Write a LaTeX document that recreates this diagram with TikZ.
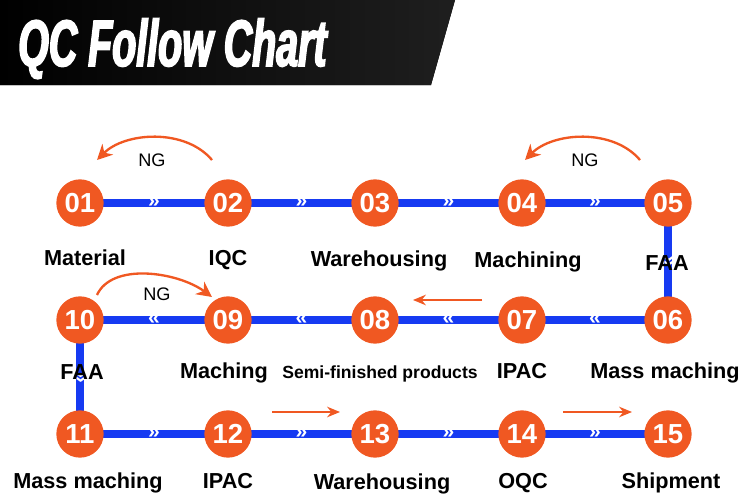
\documentclass[tikz,border=0pt]{standalone}
\usepackage{fontspec}
\setmainfont{Liberation Sans}
\newfontfamily\titlefont[FakeBold=2.5,FakeStretch=0.6]{Liberation Sans Bold Italic}
\usetikzlibrary{arrows.meta,positioning}

\definecolor{qcorange}{RGB}{240,88,34}
\definecolor{qcblue}{RGB}{22,58,242}
\pgfdeclarelayer{bg}
\pgfsetlayers{bg,main}

\begin{document}
\begin{tikzpicture}[x=0.03cm,y=-0.03cm,
  stepnum/.style={circle,fill=qcorange,minimum size=1.42cm,inner sep=0pt,text=white,font=\fontsize{23.5}{23.5}\selectfont\bfseries},
  flow/.style={qcblue,line width=7.5pt},
  chev/.style={text=white,inner sep=0pt,font=\fontsize{18}{18}\selectfont\bfseries},
  lbl/.style={anchor=base,font=\fontsize{18.5}{20}\selectfont\bfseries},
  ng/.style={qcorange,line width=2pt,-{Stealth[length=13pt,width=13pt]}},
  fwd/.style={qcorange,line width=1.6pt,-{Stealth[length=11pt,width=9pt]}},
  nglbl/.style={anchor=base,font=\fontsize{15.5}{16}\selectfont}]
\useasboundingbox (0,0) rectangle (742,501);

% header
\fill[left color=black,right color=black!88] (0,0) -- (455,0) -- (431,85) -- (0,85) -- cycle;
\node[anchor=base west,inner sep=0pt,text=white] (title) at (18,66)
  {\titlefont\fontsize{56}{56}\selectfont QC Follow Chart};

% steps
\node[stepnum] (n01) at (80,203) {01};
\node[stepnum] (n02) at (228,203) {02};
\node[stepnum] (n03) at (375,203) {03};
\node[stepnum] (n04) at (522,203) {04};
\node[stepnum] (n05) at (668,203) {05};
\node[stepnum] (n06) at (668,320) {06};
\node[stepnum] (n07) at (522,320) {07};
\node[stepnum] (n08) at (375,320) {08};
\node[stepnum] (n09) at (228,320) {09};
\node[stepnum] (n10) at (80,320) {10};
\node[stepnum] (n11) at (80,434) {11};
\node[stepnum] (n12) at (228,434) {12};
\node[stepnum] (n13) at (375,434) {13};
\node[stepnum] (n14) at (522,434) {14};
\node[stepnum] (n15) at (668,434) {15};

% flow line
\begin{pgfonlayer}{bg}
\draw[flow] (n01.center) -- node[chev]{»} (n02.center);
\draw[flow] (n02.center) -- node[chev]{»} (n03.center);
\draw[flow] (n03.center) -- node[chev]{»} (n04.center);
\draw[flow] (n04.center) -- node[chev]{»} (n05.center);
\draw[flow] (n05.center) -- node[chev,rotate=-90]{»} (n06.center);
\draw[flow] (n06.center) -- node[chev]{«} (n07.center);
\draw[flow] (n07.center) -- node[chev]{«} (n08.center);
\draw[flow] (n08.center) -- node[chev]{«} (n09.center);
\draw[flow] (n09.center) -- node[chev]{«} (n10.center);
\draw[flow] (n10.center) -- node[chev,rotate=-90]{»} (n11.center);
\draw[flow] (n11.center) -- node[chev]{»} (n12.center);
\draw[flow] (n12.center) -- node[chev]{»} (n13.center);
\draw[flow] (n13.center) -- node[chev]{»} (n14.center);
\draw[flow] (n14.center) -- node[chev]{»} (n15.center);
\end{pgfonlayer}

% labels
\node[lbl] (l01) at (85,265) {Material};
\node[lbl] (l02) at (228,265) {IQC};
\node[lbl] (l03) at (379,266) {Warehousing};
\node[lbl] (l04) at (528,267) {Machining};
\node[lbl] (l05) at (667,270) {FAA};
\node[lbl] (l06) at (665,378) {Mass maching};
\node[lbl] (l07) at (522,378) {IPAC};
\node[lbl,font=\fontsize{15}{16}\selectfont\bfseries] (l08) at (380,378) {Semi-finished products};
\node[lbl] (l09) at (224,378) {Maching};
\node[lbl] (l10) at (82,379) {FAA};
\node[lbl] (l11) at (88,488) {Mass maching};
\node[lbl] (l12) at (228,488) {IPAC};
\node[lbl] (l13) at (382,489) {Warehousing};
\node[lbl] (l14) at (523,488) {OQC};
\node[lbl] (l15) at (671,488) {Shipment};

% NG returns
\coordinate (ng1a) at (212,160);
\coordinate (ng1b) at (97,160);
\draw[ng] (ng1a) .. controls (185,128) and (125,132) .. (ng1b);
\node[nglbl] (ng1) at (152,166) {NG};
\coordinate (ng2a) at (640,160);
\coordinate (ng2b) at (525,160);
\draw[ng] (ng2a) .. controls (613,128) and (553,132) .. (ng2b);
\node[nglbl] (ng2) at (585,166) {NG};
\coordinate (ng3a) at (97,295);
\coordinate (ng3b) at (212,297);
\draw[ng] (ng3a) .. controls (112,262) and (178,272) .. (ng3b);
\node[nglbl] (ng3) at (157,300) {NG};

% forward arrows
\coordinate (f1a) at (482,300);
\coordinate (f1b) at (413,300);
\draw[fwd] (f1a) -- (f1b);
\coordinate (f2a) at (272,412);
\coordinate (f2b) at (340,412);
\draw[fwd] (f2a) -- (f2b);
\coordinate (f3a) at (563,412);
\coordinate (f3b) at (632,412);
\draw[fwd] (f3a) -- (f3b);
\end{tikzpicture}
\end{document}
